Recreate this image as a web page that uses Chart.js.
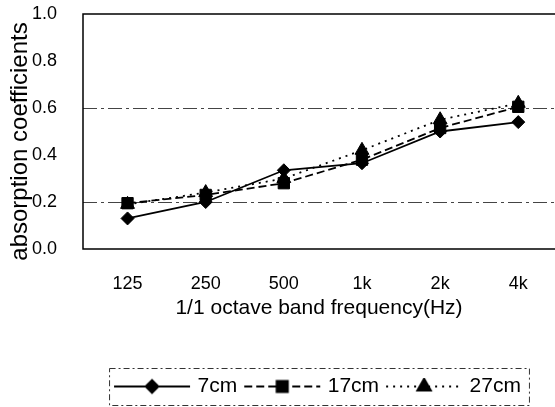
<!DOCTYPE html>
<html>
<head>
<meta charset="utf-8">
<script src="https://cdn.jsdelivr.net/npm/chart.js@4/dist/chart.umd.min.js"></script>
<style>
  html, body { margin: 0; padding: 0; background: #fff; }
  #wrap { width: 555px; height: 407px; }
</style>
</head>
<body>
<div id="wrap"><canvas id="absChart" width="555" height="407"></canvas></div>
<script>
// Absorption coefficients per octave band, three panel depths

const freqLabels = ['125', '250', '500', '1k', '2k', '4k'];
const seriesNames = ['7cm', '17cm', '27cm'];
const alpha7 = [0.13, 0.20, 0.335, 0.365, 0.50, 0.54];
const alpha17 = [0.195, 0.23, 0.28, 0.38, 0.515, 0.605];
const alpha27 = [0.19, 0.24, 0.30, 0.42, 0.55, 0.62];
const gridValues = [0.2, 0.6];

const FONT = "'Liberation Sans', Arial, sans-serif";
const NARROW = "'Liberation Sans Narrow', 'Liberation Sans', sans-serif";

const styles = [
    { dash: [], point: 'rectRot', radius: 6.5 },
    { dash: [8, 4], point: 'rect', radius: 8 },
    { dash: [2, 5], point: 'triangle', radius: 8 }
];

// line + marker picture for the legend
function legendIcon(st) {
    const c = document.createElement('canvas');
    c.width = 80;
    c.height = 18;
    const ctx = c.getContext('2d');
    ctx.strokeStyle = '#000';
    ctx.fillStyle = '#000';
    ctx.lineWidth = 1.8;
    ctx.setLineDash(st.dash);
    ctx.beginPath();
    ctx.moveTo(2, 9);
    ctx.lineTo(78, 9);
    ctx.stroke();
    ctx.setLineDash([]);
    Chart.helpers.drawPoint(ctx, { pointStyle: st.point, radius: st.radius, rotation: 0, borderWidth: 1 }, 40, 9);
    return c;
}

const frame = {
    id: 'frame',
    beforeDatasetsDraw(chart) {
        const a = chart.chartArea;
        const ctx = chart.ctx;
        ctx.save();
        ctx.strokeStyle = '#000';
        ctx.lineWidth = 1.5;
        ctx.beginPath();
        ctx.moveTo(a.right + 2, a.top);
        ctx.lineTo(a.left, a.top);
        ctx.lineTo(a.left, a.bottom);
        ctx.lineTo(a.right + 2, a.bottom);
        ctx.stroke();
        ctx.restore();
    },
    afterDraw(chart) {
        // dashed box round the legend
        const boxes = chart.legend.legendHitBoxes;
        if (!boxes || !boxes.length) return;
        const left = Math.min(...boxes.map(b => b.left)) - 8;
        const right = Math.max(...boxes.map(b => b.left + b.width)) + 8;
        const top = Math.min(...boxes.map(b => b.top)) - 8;
        const bottom = Math.max(...boxes.map(b => b.top + b.height)) + 8;
        const ctx = chart.ctx;
        ctx.save();
        ctx.strokeStyle = '#333';
        ctx.lineWidth = 1;
        ctx.setLineDash([6, 3, 2, 3]);
        ctx.strokeRect(left + 0.5, top + 0.5, right - left, bottom - top);
        ctx.restore();
    }
};

const allSeries = [alpha7, alpha17, alpha27];

const datasets = allSeries.map((vals, k) => ({
    label: seriesNames[k],
    data: vals.map((v, i) => ({ x: i, y: v })),
    borderColor: '#000',
    backgroundColor: '#000',
    borderWidth: 1.8,
    borderDash: styles[k].dash,
    pointStyle: styles[k].point,
    pointRadius: styles[k].radius,
    pointBorderWidth: 1,
    tension: 0
}));

new Chart(document.getElementById('absChart').getContext('2d'), {
    type: 'line',
    data: { datasets: datasets.reverse() },
    options: {
        responsive: false,
        animation: false,
        layout: { autoPadding: false, padding: { top: 14, right: 0, left: 0, bottom: 0 } },
        plugins: {
            tooltip: { enabled: false },
            legend: {
                position: 'bottom',
                fullSize: false,
                labels: {
                    color: '#000',
                    font: { family: FONT, size: 21 },
                    usePointStyle: true,
                    pointStyleWidth: 70,
                    padding: 10,
                    generateLabels(chart) {
                        return seriesNames.map((name, k) => ({
                            text: name,
                            pointStyle: legendIcon(styles[k]),
                            fillStyle: '#000',
                            strokeStyle: '#000',
                            lineWidth: 0,
                            hidden: false,
                            datasetIndex: 2 - k
                        }));
                    }
                }
            }
        },
        scales: {
            x: {
                type: 'linear',
                min: -0.57,
                max: 5.47,
                afterBuildTicks(axis) {
                    axis.ticks = freqLabels.map((_, i) => ({ value: i }));
                },
                afterFit(axis) { axis.height = 117; },
                ticks: {
                    color: '#000',
                    font: { family: FONT, size: 18 },
                    padding: 24,
                    maxRotation: 0,
                    callback: v => freqLabels[v]
                },
                grid: { display: false, drawTicks: false },
                border: { display: false },
                title: {
                    display: true,
                    text: '1/1 octave band frequency(Hz)',
                    color: '#000',
                    font: { family: FONT, size: 21 },
                    padding: { top: 0, bottom: 45 }
                }
            },
            y: {
                min: 0,
                max: 1,
                afterFit(axis) { axis.width = 83; },
                ticks: {
                    stepSize: 0.2,
                    color: '#000',
                    font: { family: NARROW, size: 18 },
                    padding: 0,
                    callback: v => v.toFixed(1)
                },
                grid: {
                    drawTicks: true,
                    tickLength: 26,
                    tickColor: 'rgba(0,0,0,0)',
                    lineWidth: 1,
                    color: ctx => gridValues.some(g => Math.abs(g - ctx.tick.value) < 1e-6) ? '#444' : 'rgba(0,0,0,0)'
                },
                border: { display: false, dash: [14, 4, 3, 4] },
                title: {
                    display: true,
                    text: 'absorption coefficients   ',
                    color: '#000',
                    font: { family: FONT, size: 24 },
                    padding: { top: 6, bottom: 0 }
                }
            }
        }
    },
    plugins: [frame]
});
</script>
</body>
</html>
